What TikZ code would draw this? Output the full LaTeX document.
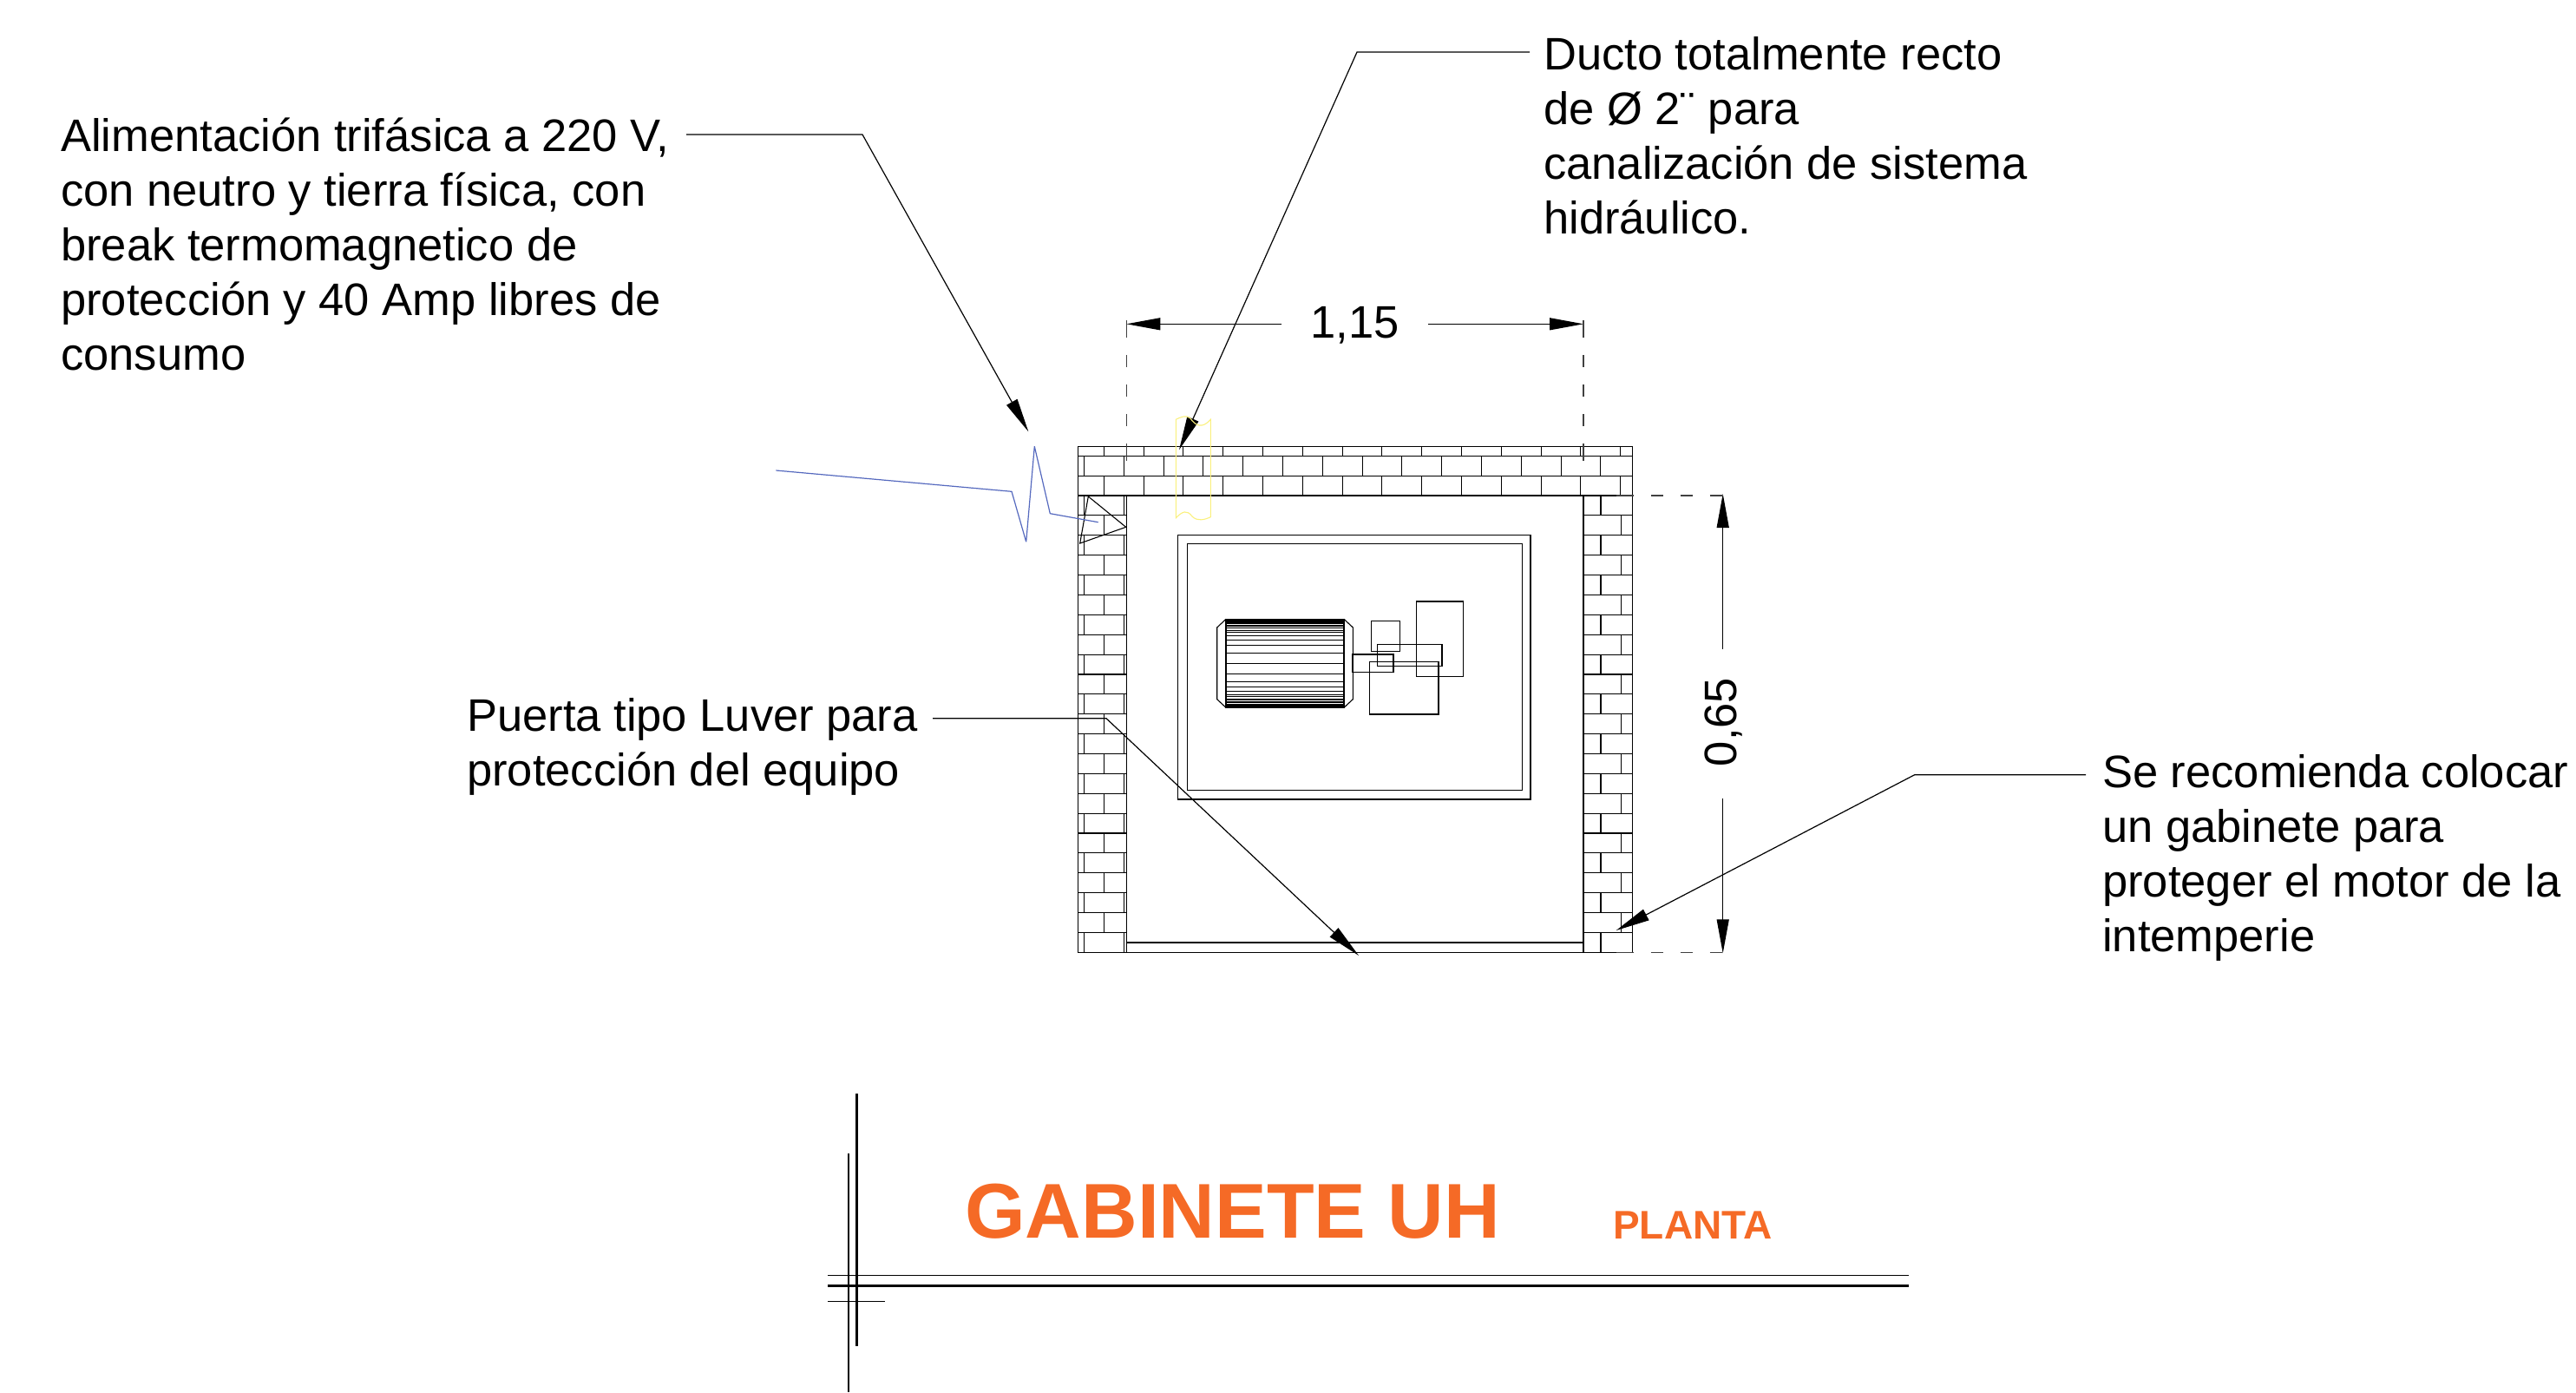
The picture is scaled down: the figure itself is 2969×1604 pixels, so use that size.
\documentclass[tikz,border=0pt]{standalone}
\usepackage{fontspec}
\setmainfont{Liberation Sans}
\usetikzlibrary{arrows.meta}
\definecolor{orangeT}{RGB}{245,106,38}
\definecolor{wireblue}{RGB}{85,105,190}
\definecolor{ductyellow}{RGB}{250,240,125}
\tikzset{
  ln/.style={line width=1.1pt,black},
  leader/.style={line width=1.2pt,black,-{Triangle[length=39pt,width=14pt]}},
  dimline/.style={line width=1.2pt,black!75},
  dimtip/.style={line width=1.2pt,black,-{Triangle[length=39pt,width=14pt]}},
  extdash/.style={dimline,dash pattern=on 20pt off 20pt on 14pt off 20pt on 14pt off 20pt on 14pt off 20pt on 20pt},
  note/.style={font=\fontsize{52.5}{63}\selectfont,align=left,inner sep=0pt,anchor=base west},
  dimtext/.style={font=\fontsize{52.5}{63}\selectfont,inner sep=0pt,anchor=base},
}
\begin{document}
\begin{tikzpicture}[x=1pt,y=-1pt]
\useasboundingbox (0,0) rectangle (2969,1604);
% ---------- wall outline
\draw[ln] (1242.5,514.3) rectangle (1881.5,1097.3);
\draw[ln] (1298.5,571) -- (1298.5,1097.3);
\draw[ln] (1825,571) -- (1825,1097.3);
\draw[ln] (1242.5,525.3) -- (1881.5,525.3);
\draw[ln] (1242.5,548.3) -- (1881.5,548.3);
\draw[ln] (1242.5,571) -- (1881.5,571);
% door
\draw[ln] (1298.5,1086) -- (1825,1086);
% top wall joints
\foreach \k in {0,...,13}{
  \pgfmathsetmacro{\xx}{1272.3+45.8*\k}
  \draw[ln] (\xx,514.3) -- (\xx,525.3);
  \draw[ln] (\xx,548.3) -- (\xx,571);
}
\foreach \k in {0,...,12}{
  \pgfmathsetmacro{\xx}{1295.3+45.8*\k}
  \draw[ln] (\xx,525.3) -- (\xx,548.3);
}
\draw[ln] (1249.3,525.3) -- (1249.3,548.3);
% side walls
\foreach \n in {0,...,22}{
  \pgfmathsetmacro{\ya}{571+22.883*\n}
  \pgfmathsetmacro{\yb}{571+22.883*(\n+1)}
  \draw[ln] (1242.5,\yb) -- (1298.5,\yb);
  \draw[ln] (1825,\yb) -- (1881.5,\yb);
  \ifodd\n
    \draw[ln] (1272.3,\ya) -- (1272.3,\yb);
    \draw[ln] (1868.3,\ya) -- (1868.3,\yb);
  \else
    \draw[ln] (1249.3,\ya) -- (1249.3,\yb);
    \draw[ln] (1295.3,\ya) -- (1295.3,\yb);
    \draw[ln] (1845,\ya) -- (1845,\yb);
  \fi
}
% ---------- triangle
\draw[line width=1.1pt] (1254.3,572) -- (1297.7,607.3) -- (1244.7,626) -- cycle;
% ---------- equipment
\draw[ln] (1357.3,616.3) rectangle (1764,921);
\draw[ln] (1368.7,626.3) rectangle (1754.3,910.7);
% motor
\draw[ln] (1413,713.3) rectangle (1549,815.3);
\draw[ln] (1413,713.3) -- (1402.7,723) -- (1402.7,805.7) -- (1413,815.3);
\draw[ln] (1549,713.3) -- (1559.3,723) -- (1559.3,805.7) -- (1549,815.3);
\fill (1413,713.3) rectangle (1549,716.3);
\fill (1413,812.3) rectangle (1549,815.3);
\foreach \o in {0,12,21.3,27.3,32.3,35.7,38.3,40.7,42.5,44,45.5,46.7,47.7,48.5}{
  \draw[line width=1pt] (1413,764.3+\o) -- (1549,764.3+\o);
  \draw[line width=1pt] (1413,764.3-\o) -- (1549,764.3-\o);
}
% gear boxes
\draw[ln] (1580.7,715.3) rectangle (1613.3,750.7);
\draw[ln] (1587.7,742.7) rectangle (1662,767.7);
\draw[ln] (1632.3,693) rectangle (1686.3,779.3);
\draw[ln] (1558.7,754) rectangle (1606,774.3);
\draw[ln] (1578.7,762.3) rectangle (1658,823);
% ---------- blue wire
\draw[wireblue,line width=1.2pt,line join=bevel] (894.3,542) -- (1166,566.3) -- (1182.7,624.3) -- (1192.3,514.3) -- (1210.3,591.7) -- (1265.7,601.7);
% ---------- texts
\node[note] (alim) at (70,426) {Alimentación trifásica a 220 V{},\\con neutro y tierra física, con\\break termomagnetico de\\protección y 40 Amp libres de\\consumo};
\node[note] (ducto) at (1779,269) {Ducto totalmente recto\\de Ø 2¨ para\\canalización de sistema\\hidráulico.};
\node[note] (puerta) at (538,905) {Puerta tipo Luver para\\protección del equipo};
\node[note] (reco) at (2423,1096) {Se recomienda colocar\\un gabinete para\\proteger el motor de la\\intemperie};
% ---------- leaders
\coordinate (a0) at (791,155);
\coordinate (a1) at (994,155);
\coordinate (a2) at (1185.3,497.3);
\draw[leader] (a0) -- (a1) -- (a2);
\coordinate (b0) at (1763,60);
\coordinate (b1) at (1564,60);
\coordinate (b2) at (1359,518.3);
\draw[leader] (b0) -- (b1) -- (b2);
\coordinate (c0) at (1075,827.7);
\coordinate (c1) at (1275,827.7);
\coordinate (c2) at (1566,1101);
\draw[leader] (c0) -- (c1) -- (c2);
\coordinate (d0) at (2404,892.7);
\coordinate (d1) at (2206.7,892.7);
\coordinate (d2) at (1862.7,1072);
\draw[leader] (d0) -- (d1) -- (d2);
% ---------- dimension 1,15
\coordinate (hl) at (1298.3,373.3);
\coordinate (hr) at (1825,373.3);
\coordinate (hm1) at (1477.3,373.3);
\coordinate (hm2) at (1646.3,373.3);
\draw[dimtip] (hm1) -- (hl);
\draw[dimtip] (hm2) -- (hr);
\node[dimtext] (w) at (1561.7,389.3) {1,15};
\draw[extdash] (1298.3,369.3) -- (1298.3,533);
\draw[extdash] (1825,369.3) -- (1825,533);
% ---------- dimension 0,65
\coordinate (vt) at (1985.7,569);
\coordinate (vb) at (1985.7,1098.3);
\coordinate (vm1) at (1985.7,747.7);
\coordinate (vm2) at (1985.7,920.3);
\draw[dimtip] (vm1) -- (vt);
\draw[dimtip] (vm2) -- (vb);
\node[dimtext,rotate=90] (h) at (2001.7,832) {0,65};
\draw[extdash] (1862.7,571) -- (1990,571);
\draw[extdash] (1862.7,1097.3) -- (1990,1097.3);
% ---------- yellow duct
\draw[ductyellow,line width=1.1pt]
  (1355.3,483.3) .. controls (1362,480) and (1367,478) .. (1372,482)
  .. controls (1378,491) and (1386,494) .. (1395.3,483.3)
  -- (1395.3,595.7)
  .. controls (1388,599) and (1380,601) .. (1374,595)
  .. controls (1368,587) and (1363,589) .. (1355.3,596.7) -- cycle;
% ---------- title
\node[inner sep=0pt,anchor=base west,text=orangeT,font=\fontsize{89.5}{90}\selectfont\bfseries] (t1) at (1112,1426) {GABINETE UH};
\node[inner sep=0pt,anchor=base west,text=orangeT,font=\fontsize{46}{46}\selectfont\bfseries] (t2) at (1859,1427) {PLANTA};
% ---------- title lines
\draw[line width=2.5pt] (987.3,1260) -- (987.3,1551);
\draw[line width=1.6pt] (977.7,1329) -- (977.7,1604);
\draw[line width=1.4pt] (954,1469.3) -- (2200,1469.3);
\draw[line width=3pt] (954,1481) -- (2200,1481);
\draw[line width=1.4pt] (954,1499.7) -- (1019.7,1499.7);
\end{tikzpicture}
\end{document}
